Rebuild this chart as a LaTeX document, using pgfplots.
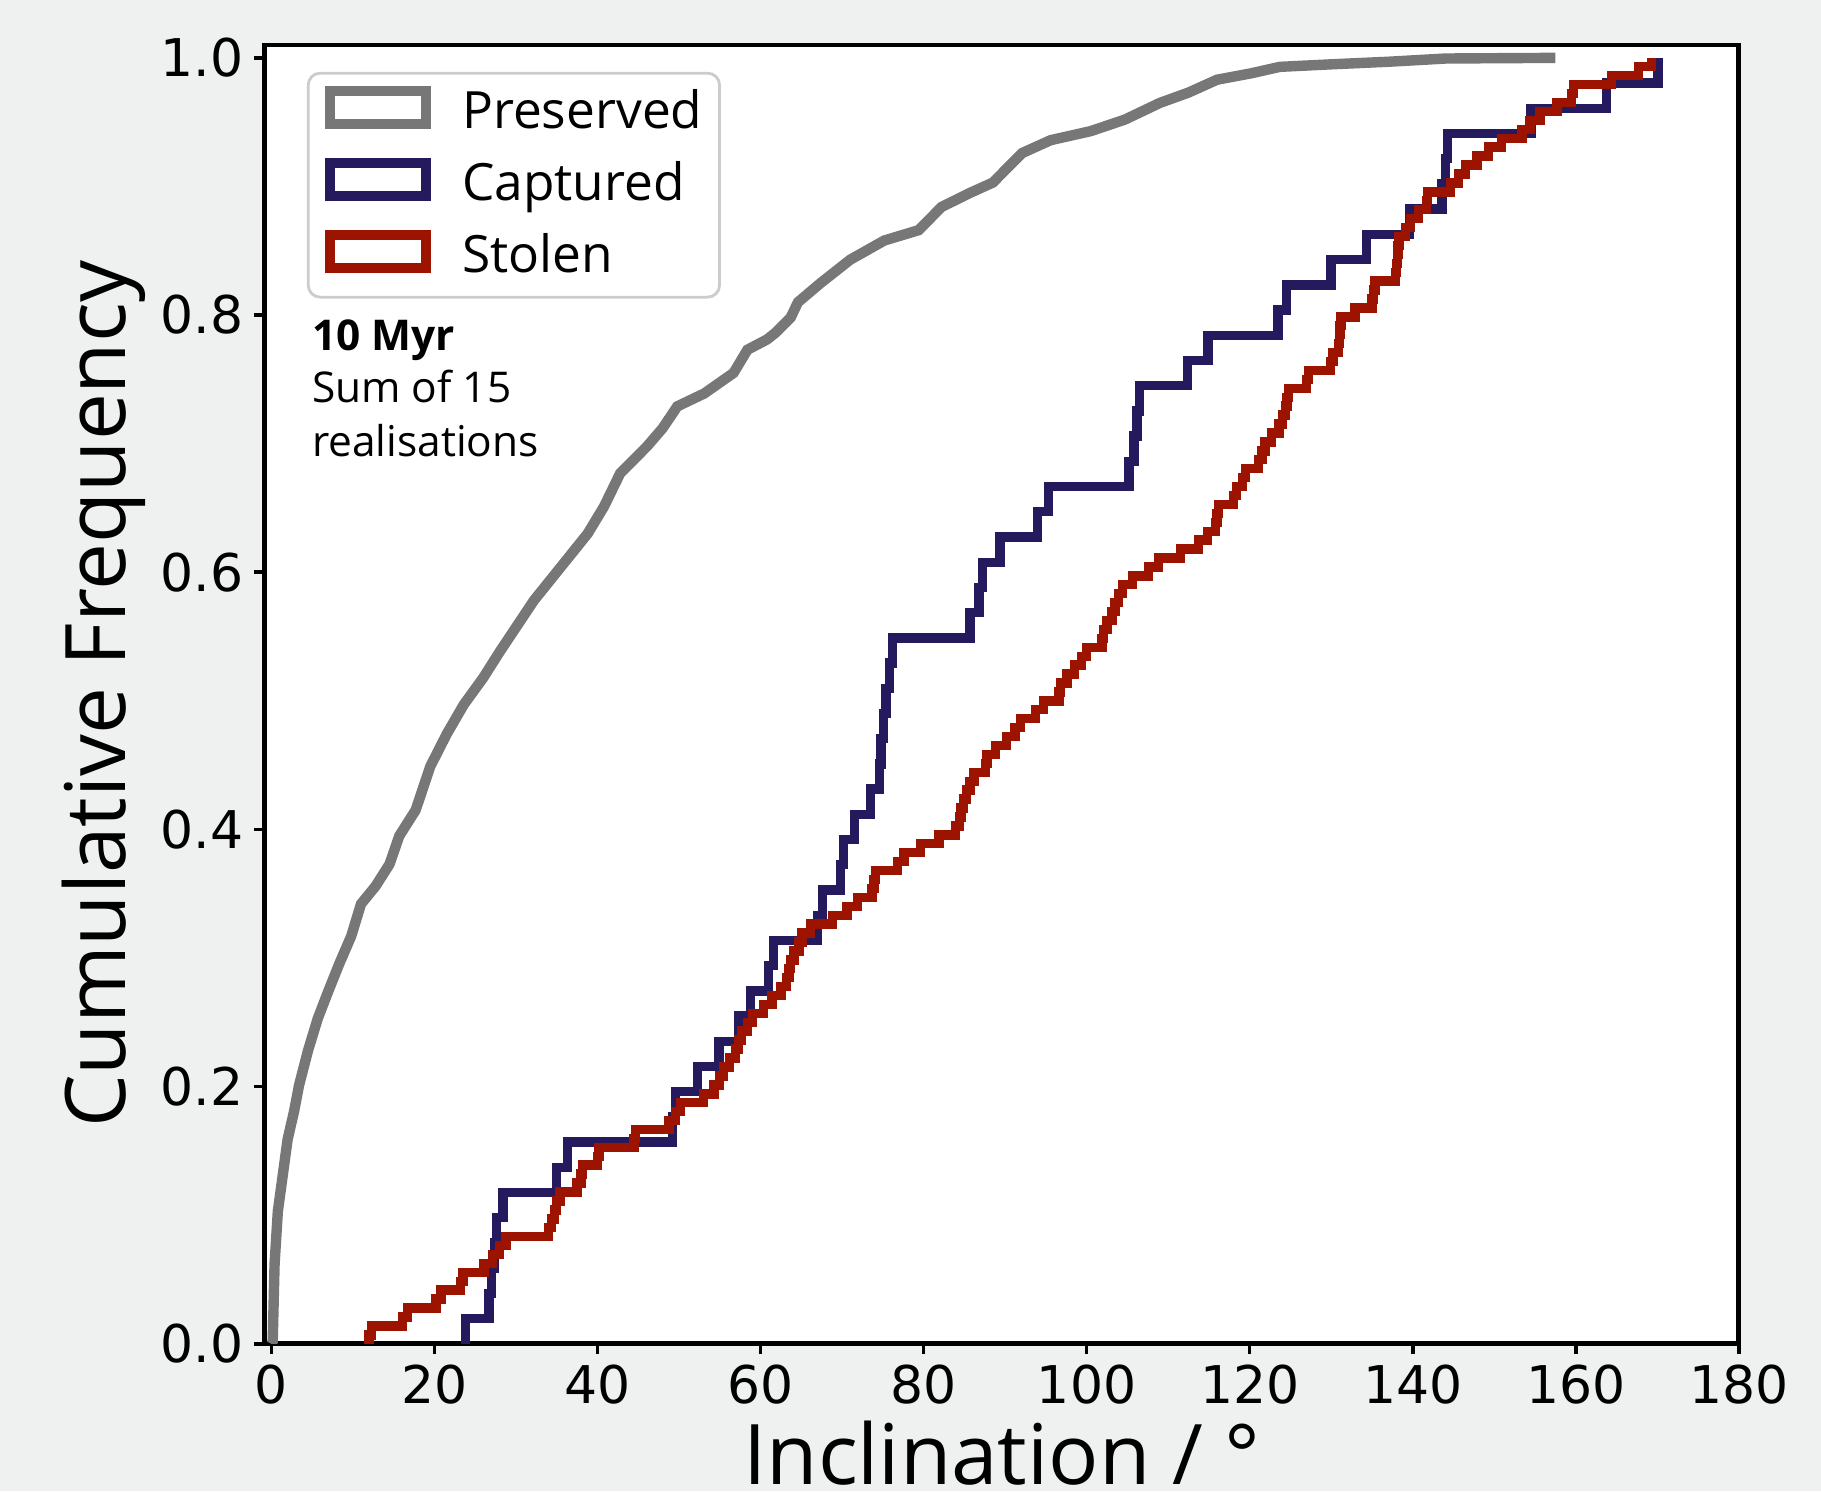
\documentclass[border=0pt]{standalone}
\usepackage{pgfplots}
\pgfplotsset{compat=1.18}
\usepackage{fontspec}
\setmainfont{Open Sans}
\newfontfamily\tickfont{DejaVu Sans}

\definecolor{figbg}{HTML}{EFF1F0}
\definecolor{presgray}{HTML}{777777}
\definecolor{capblue}{HTML}{261A5E}
\definecolor{stolred}{HTML}{9C1400}

\begin{document}
\begin{tikzpicture}
% figure background, sized like the reference (1 pt = 4 px)
\fill[figbg] (-66.2pt,-36.8pt) rectangle (389.05pt,335.95pt);
\begin{axis}[
    at={(0,0)}, anchor=south west,
    scale only axis,
    width=368.5pt, height=324.7pt,
    xmin=-0.8, xmax=180, ymin=0, ymax=1.01,
    axis background/.style={fill=white},
    axis line style={line width=1.2pt},
    tick align=outside, tick pos=left,
    major tick length=2.6pt,
    every tick/.style={black, line width=0.9pt},
    xtick={0,20,...,180},
    ytick={0,0.2,0.4,0.6,0.8,1.0},
    /pgf/number format/assume math mode=true,
    tick label style={font=\tickfont\fontsize{13}{15}\selectfont},
    xticklabel style={inner sep=0pt, yshift=-2.4pt},
    yticklabel style={inner sep=0pt, xshift=-2.6pt,
        /pgf/number format/fixed, /pgf/number format/fixed zerofill,
        /pgf/number format/precision=1},
    xlabel={Inclination / °},
    ylabel={Cumulative Frequency},
    label style={font=\fontsize{20.9}{24}\selectfont},
    xlabel style={at={(axis description cs:0.5,-0.1081)}, anchor=base},
    ylabel style={at={(axis description cs:-0.0947,0.5)}, anchor=base},
    legend style={at={(axis description cs:0.0285,0.9794)}, anchor=north west,
        draw=black!20, line width=0.7pt, rounded corners=3pt, fill=white,
        font=\fontsize{12.85}{15}\selectfont,
        inner xsep=4.3pt, inner ysep=1.2pt, row sep=0.4pt,
        nodes={inner sep=0pt, text height=12.6pt, text depth=5.0pt},
        /tikz/every odd column/.append style={column sep=7.8pt}},
    legend cell align=left,
    legend image code/.code={\draw[#1, sharp corners, line width=2.4pt, line join=miter]
        (0pt,-2.7pt) rectangle (24pt,5.5pt);},
    every axis plot/.append style={line join=miter, line width=2.35pt},
]
\addplot[presgray, sharp plot, line width=2.6pt] coordinates {
(0,0) (0.17,0.002) (0.4,0.062) (0.8,0.103) (1.4,0.131) (2.0,0.159)
(2.8,0.181) (3.4,0.201) (4.5,0.228) (5.7,0.253) (7.1,0.276) (8.3,0.295)
(9.8,0.317) (11.0,0.342) (12.8,0.356) (14.5,0.373) (15.7,0.395) (17.7,0.415)
(19.5,0.449) (21.5,0.474) (23.6,0.497) (26.0,0.518) (28.1,0.539) (30.2,0.559)
(32.2,0.578) (35.5,0.604) (38.8,0.630) (40.8,0.651) (42.8,0.677) (46.1,0.698)
(48.0,0.712) (49.8,0.729) (53.1,0.739) (56.7,0.755) (58.4,0.773) (60.8,0.781)
(61.8,0.786) (63.7,0.798) (64.6,0.810) (67.4,0.825) (71.0,0.843) (75.2,0.858)
(79.4,0.866) (82.2,0.884) (85.7,0.895) (88.5,0.903) (92.1,0.926) (95.6,0.936)
(100.5,0.943) (104.7,0.952) (109.0,0.965) (112.5,0.973) (116.0,0.983)
(120.2,0.988) (123.7,0.993) (130.1,0.995) (137.1,0.997) (144.1,0.9995)
(157.5,1.0)
};
\addlegendentry{Preserved}
\addplot[capblue, const plot] coordinates {
(23.8,0) (23.8,0.0196) (26.7,0.0392) (27.0,0.0588) (27.4,0.0784) (27.6,0.0980)
(28.4,0.1176) (35.0,0.1373) (36.3,0.1569) (49.2,0.1765) (49.6,0.1961)
(52.3,0.2157) (54.9,0.2353) (57.3,0.2549) (58.8,0.2745) (61.0,0.2941)
(61.6,0.3137) (67.0,0.3333) (67.6,0.3529) (69.8,0.3725) (70.2,0.3922)
(71.5,0.4118) (73.5,0.4314) (74.6,0.4510) (74.8,0.4706) (75.1,0.4902)
(75.4,0.5098) (75.8,0.5294) (76.2,0.5490) (85.7,0.5686) (86.8,0.5882)
(87.2,0.6078) (89.4,0.6275) (94.0,0.6471) (95.3,0.6667) (105.2,0.6863)
(105.8,0.7059) (106.2,0.7255) (106.5,0.7451) (112.4,0.7647) (114.9,0.7843)
(123.5,0.8039) (124.5,0.8235) (130.0,0.8431) (134.3,0.8627) (139.6,0.8824)
(143.6,0.9020) (144.0,0.9216) (144.3,0.9412) (154.5,0.9608) (163.8,0.9804)
(170.1,1.0)
};
\addlegendentry{Captured}
\addplot[stolred, const plot] coordinates {
(12.0,0) (12.0,0.0069) (12.3,0.0139) (16.1,0.0208) (16.7,0.0278) (20.2,0.0347)
(20.8,0.0417) (23.2,0.0486) (23.5,0.0556) (26.1,0.0625) (27.1,0.0694)
(28.0,0.0764) (28.8,0.0833) (34.0,0.0903) (34.4,0.0972) (34.7,0.1042)
(35.0,0.1111) (35.4,0.1181) (37.5,0.1250) (38.0,0.1319) (38.2,0.1389)
(40.0,0.1458) (40.2,0.1528) (44.5,0.1597) (44.7,0.1667) (48.8,0.1736)
(49.6,0.1806) (50.2,0.1875) (53.0,0.1944) (54.3,0.2014) (55.0,0.2083)
(55.5,0.2153) (56.2,0.2222) (56.9,0.2292) (57.3,0.2361) (57.7,0.2431)
(58.4,0.2500) (59.0,0.2569) (60.4,0.2639) (61.4,0.2708) (62.5,0.2778)
(63.2,0.2847) (63.5,0.2917) (63.7,0.2986) (64.1,0.3056) (64.7,0.3125)
(65.1,0.3194) (66.1,0.3264) (68.8,0.3333) (70.6,0.3403) (71.9,0.3472)
(73.7,0.3542) (73.9,0.3611) (74.1,0.3681) (76.8,0.3750) (77.6,0.3819)
(79.6,0.3889) (81.9,0.3958) (83.9,0.4028) (84.4,0.4097) (84.6,0.4167)
(84.9,0.4236) (85.3,0.4306) (85.7,0.4375) (86.2,0.4444) (87.6,0.4514)
(87.8,0.4583) (88.8,0.4653) (90.2,0.4722) (91.2,0.4792) (91.9,0.4861)
(93.7,0.4931) (94.7,0.5000) (96.6,0.5069) (96.8,0.5139) (97.6,0.5208)
(98.5,0.5278) (99.4,0.5347) (100.0,0.5417) (101.9,0.5486) (102.1,0.5556)
(102.5,0.5625) (103.1,0.5694) (103.5,0.5764) (103.9,0.5833) (104.4,0.5903)
(105.6,0.5972) (107.6,0.6042) (108.8,0.6111) (111.5,0.6181) (113.7,0.6250)
(114.8,0.6319) (115.8,0.6389) (116.0,0.6458) (116.2,0.6528) (118.0,0.6597)
(118.4,0.6667) (119.1,0.6736) (119.5,0.6806) (121.1,0.6875) (121.5,0.6944)
(121.9,0.7014) (122.7,0.7083) (123.6,0.7153) (124.0,0.7222) (124.4,0.7292)
(124.6,0.7361) (124.8,0.7431) (127.0,0.7500) (127.2,0.7569) (129.9,0.7639)
(130.2,0.7708) (130.9,0.7778) (131.0,0.7847) (131.1,0.7917) (131.2,0.7986)
(132.9,0.8056) (135.0,0.8125) (135.2,0.8194) (135.4,0.8264) (137.9,0.8333)
(138.0,0.8403) (138.1,0.8472) (138.2,0.8542) (138.3,0.8611) (139.1,0.8681)
(139.7,0.8750) (140.7,0.8819) (141.7,0.8889) (141.8,0.8958) (144.6,0.9028)
(145.6,0.9097) (146.5,0.9167) (147.9,0.9236) (149.3,0.9306) (150.9,0.9375)
(153.4,0.9444) (154.4,0.9514) (155.6,0.9583) (157.7,0.9653) (159.5,0.9722)
(159.7,0.9792) (164.4,0.9861) (167.7,0.9931) (169.3,1.0)
};
\addlegendentry{Stolen}
\node[anchor=base west, inner sep=0pt, font=\bfseries\fontsize{10.6}{13}\selectfont]
    at (axis description cs:0.0315,0.7647) {10 Myr};
\node[anchor=base west, inner sep=0pt, font=\fontsize{10.6}{13}\selectfont]
    at (axis description cs:0.0315,0.7244) {Sum of 15};
\node[anchor=base west, inner sep=0pt, font=\fontsize{10.6}{13}\selectfont]
    at (axis description cs:0.0315,0.6832) {realisations};
\end{axis}
\pgfresetboundingbox
\path[use as bounding box] (-66.2pt,-36.8pt) rectangle (389.05pt,335.95pt);
\end{tikzpicture}
\end{document}
